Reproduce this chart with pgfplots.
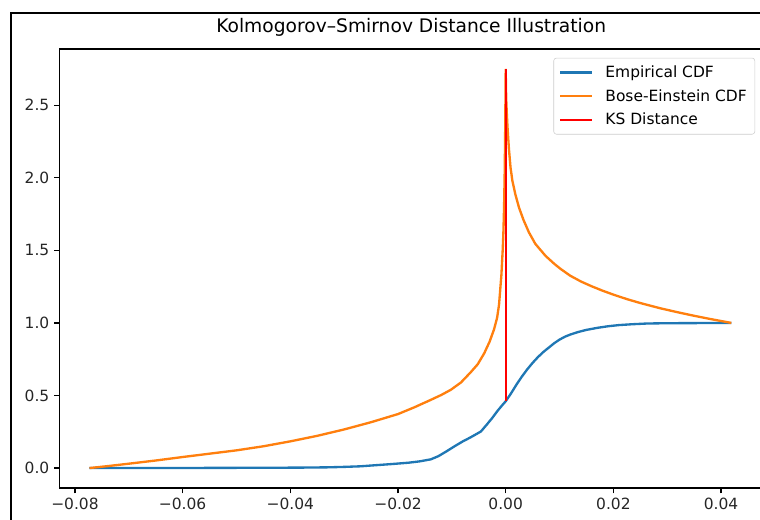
\documentclass[border=0pt]{standalone}
\usepackage{fontspec}
\setmainfont{DejaVu Sans}
\usepackage{pgfplots}
\pgfplotsset{compat=1.18}
\definecolor{mplBlue}{HTML}{1F77B4}
\definecolor{mplOrange}{HTML}{FF7F0E}
\definecolor{legendEdge}{HTML}{CCCCCC}

\begin{document}
\begin{tikzpicture}
\path[use as bounding box] (0,0) rectangle (570pt,389.25pt);
\clip (0,0) rectangle (570pt,389.25pt);
% outer figure frame (cut off at right and bottom)
\draw[black, line width=1.5pt] (8pt,-20pt) rectangle (600pt,379.7pt);
\begin{axis}[
    at={(44.5pt,23.25pt)}, anchor=south west,
    scale only axis,
    width=527.8pt,
    height=329.25pt,
    xmin=-0.0829, xmax=0.0478,
    ymin=-0.1375, ymax=2.8875,
    axis line style={line width=0.94pt},
    tick align=outside,
    major tick length=4pt,
    every tick/.style={black, line width=0.94pt},
    xtick pos=bottom, ytick pos=left,
    xtick={-0.08,-0.06,-0.04,-0.02,0,0.02,0.04},
    xticklabels={−0.08,−0.06,−0.04,−0.02,0.00,0.02,0.04},
    ytick={0,0.5,1,1.5,2,2.5},
    yticklabels={0.0,0.5,1.0,1.5,2.0,2.5},
    scaled x ticks=false,
    ticklabel style={font=\fontsize{11.6}{13}\selectfont, text=black!85},
    title={Kolmogorov–Smirnov Distance Illustration},
    title style={font=\fontsize{14}{16}\selectfont, anchor=base, at={(0.5,1)}, yshift=6.6pt},
    legend style={at={(0.9886,0.980)}, anchor=north east,
        draw=legendEdge, rounded corners=2pt,
        font=\fontsize{11.6}{13}\selectfont,
        inner xsep=4pt, inner ysep=3.6pt, row sep=3.5pt,
        /tikz/every odd column/.append style={column sep=7pt}},
    legend cell align=left,
    legend image code/.code={\draw[#1] (0pt,0pt) -- (24pt,0pt);},
]
\addplot[mplBlue, line width=1.75pt] coordinates {
(-0.0773,0.0) (-0.065,0.0003) (-0.055,0.001) (-0.045,0.002) (-0.038,0.003)
(-0.033,0.005) (-0.030,0.008) (-0.027,0.012) (-0.024,0.020) (-0.021,0.028)
(-0.018,0.037) (-0.016,0.046) (-0.0139,0.060) (-0.0125,0.082) (-0.011,0.115)
(-0.0095,0.150) (-0.008,0.183) (-0.0065,0.212) (-0.0046,0.252) (-0.0035,0.300)
(-0.0025,0.345) (-0.0015,0.395) (-0.0006,0.435) (0.0,0.460) (0.001,0.515)
(0.002,0.575) (0.003,0.630) (0.004,0.680) (0.005,0.725) (0.006,0.765)
(0.007,0.800) (0.008,0.830) (0.009,0.860) (0.010,0.885) (0.011,0.905)
(0.012,0.920) (0.0135,0.938) (0.015,0.952) (0.017,0.966) (0.019,0.977)
(0.021,0.985) (0.0235,0.991) (0.0263,0.996) (0.030,0.998) (0.036,0.999)
(0.0419,1.0)
};
\addlegendentry{Empirical CDF}
\addplot[mplOrange, line width=1.75pt] coordinates {
(-0.0773,0.0) (-0.074,0.013) (-0.070,0.030) (-0.065,0.052) (-0.060,0.076)
(-0.055,0.099) (-0.050,0.122) (-0.045,0.150) (-0.040,0.184) (-0.035,0.222)
(-0.030,0.266) (-0.025,0.316) (-0.020,0.372) (-0.017,0.418) (-0.0139,0.470)
(-0.012,0.503) (-0.0102,0.539) (-0.0083,0.590) (-0.0065,0.660) (-0.0052,0.715)
(-0.0040,0.790) (-0.0030,0.870) (-0.00217,0.955) (-0.0016,1.035) (-0.00124,1.125)
(-0.0008,1.33) (-0.00056,1.50) (-0.00043,1.62) (-0.0003,1.80) (-0.00018,2.05)
(-0.00008,2.38) (0.0,2.75) (0.00005,2.62) (0.0001,2.54) (0.0002,2.45)
(0.0003,2.375) (0.0004,2.31) (0.0006,2.20) (0.0009,2.07) (0.00124,1.98)
(0.0018,1.885) (0.00247,1.795) (0.0033,1.71) (0.0043,1.625) (0.0055,1.545)
(0.0074,1.462) (0.009,1.408) (0.0102,1.372) (0.012,1.325) (0.014,1.285)
(0.016,1.252) (0.018,1.222) (0.020,1.195) (0.0226,1.163) (0.025,1.137)
(0.0287,1.101) (0.032,1.073) (0.0349,1.050) (0.038,1.027) (0.0419,1.0)
};
\addlegendentry{Bose-Einstein CDF}
\addplot[red, line width=1.75pt] coordinates {(0.0,0.46) (0.0,2.75)};
\addlegendentry{KS Distance}
\end{axis}
\end{tikzpicture}
\end{document}
